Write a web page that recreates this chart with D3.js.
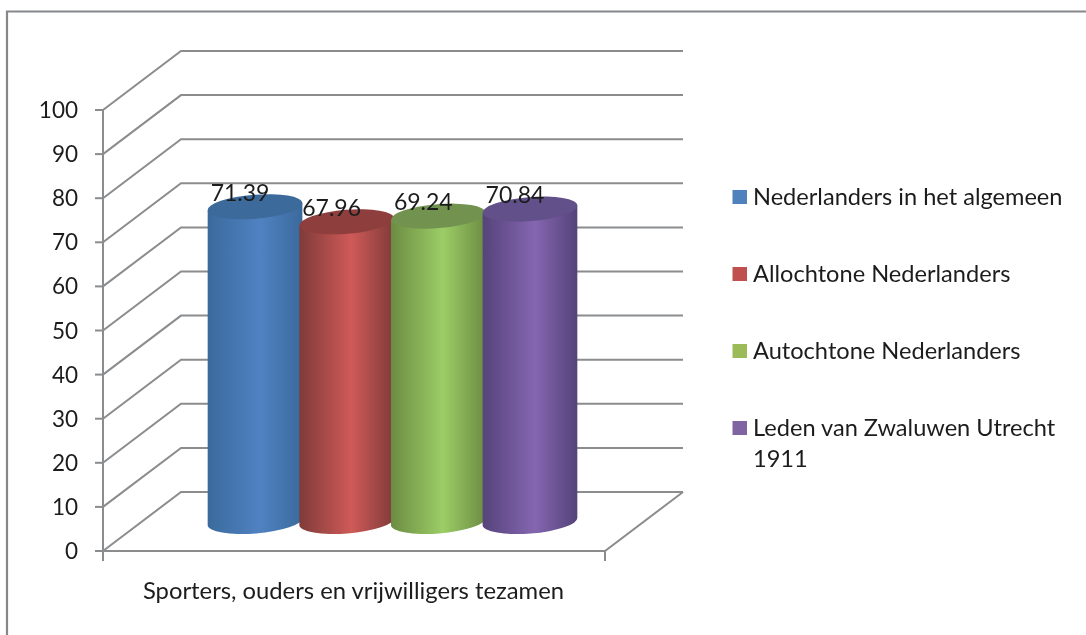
<!DOCTYPE html>
<html><head><meta charset="utf-8">
<script src="https://cdn.jsdelivr.net/npm/d3@7"></script>
<style>html,body{margin:0;padding:0;background:#fff}svg{display:block;filter:blur(0.45px)}text{font-family:Lato,"Open Sans",sans-serif;fill:#1c1c1c}</style>
</head><body><div id="c"></div>
<script>
const seriesNames=["Nederlanders in het algemeen","Allochtone Nederlanders","Autochtone Nederlanders","Leden van Zwaluwen Utrecht 1911"];
const seriesValues=[71.39,67.96,69.24,70.84];
const valueLabels=["71.39","67.96","69.24","70.84"];
const tickValues=[0,10,20,30,40,50,60,70,80,90,100];
const category="Sporters, ouders en vrijwilligers tezamen";
const edgeColors=["#3a6a9c","#7f3b39","#6c8c42","#55437a"];
const midColors=["#5082c2","#cf5a58","#9ccd66","#8466b0"];
const topColors=["#3c6a9a","#8e3f3d","#71934f","#62508a"];
const swatchColors=["#4f81bd","#c0504d","#9bbb59","#8064a2"];

const W=1086,H=635,grid="#8a8c8e";
const svg=d3.select("#c").append("svg").attr("width",W).attr("height",H);
const y=d3.scaleLinear().domain([0,100]).range([551,110]);
const dx=78,dy=59,x0=103,x1=605;
const x=d3.scaleBand().domain(seriesNames).range([209.2,575.8]);
const defs=svg.append("defs");
seriesNames.forEach((s,i)=>{
  const g=defs.append("linearGradient").attr("id","g"+i);
  g.append("stop").attr("offset","0").attr("stop-color",edgeColors[i]);
  g.append("stop").attr("offset","0.55").attr("stop-color",midColors[i]);
  g.append("stop").attr("offset","1").attr("stop-color",edgeColors[i]);
});
// frame
svg.append("path").attr("d",`M7,635V11.5H1086`).attr("fill","none").attr("stroke","#85878a").attr("stroke-width",2.2);
// walls
const gg=svg.append("g").attr("fill","none").attr("stroke",grid).attr("stroke-width",2);
gg.selectAll("path.g").data(tickValues).join("path").attr("class","g")
  .attr("d",v=>`M${x0},${y(v)}L${x0+dx},${y(v)-dy}H${x1+dx}`);
gg.append("path").attr("d",`M${x0},${y(0)}H${x1}L${x1+dx},${y(0)-dy}`);
gg.append("path").attr("d",`M${x0},${y(100)}V${y(0)+10}M${x1},${y(0)}V${y(0)+10}`);
gg.selectAll("path.t").data(tickValues).join("path").attr("class","t")
  .attr("d",v=>`M${x0-8},${y(v)}H${x0}`);
svg.append("g").selectAll("text").data(tickValues).join("text")
  .attr("x",78).attr("y",v=>y(v)+8).attr("text-anchor","end").attr("font-size",22.5).text(d=>d);
// cylinders
const rx=47.5,ry=12,rot=-4.5,rad=rot*Math.PI/180;
const ex=rx*Math.cos(rad),ey=rx*Math.sin(rad);
const base=y(0)-dy/2;
const unit=y(0)-y(1);
seriesNames.forEach((s,i)=>{
  const cx=x(s)+x.bandwidth()/2, ct=base-seriesValues[i]*unit;
  svg.append("path").attr("fill",`url(#g${i})`)
    .attr("d",`M${cx-ex},${ct-ey}L${cx-ex},${base-ey}A${rx},${ry} ${rot} 0 0 ${cx+ex},${base+ey}L${cx+ex},${ct+ey}Z`);
  svg.append("ellipse").attr("cx",cx).attr("cy",ct).attr("rx",rx).attr("ry",ry)
    .attr("transform",`rotate(${rot} ${cx} ${ct})`).attr("fill",topColors[i]);
});
// value labels
svg.append("g").selectAll("text").data(seriesNames).join("text")
  .attr("x",s=>x(s)+x.bandwidth()/2-15).attr("y",(s,i)=>base-seriesValues[i]*unit-6)
  .attr("text-anchor","middle").attr("font-size",23).text((s,i)=>valueLabels[i]);
// category
svg.append("text").attr("x",353.5).attr("y",599).attr("text-anchor","middle").attr("font-size",23.8).text(category);
// legend
const legY=d3.scalePoint().domain(seriesNames).range([197,428]);
svg.append("g").selectAll("rect").data(seriesNames).join("rect")
  .attr("x",732.5).attr("y",s=>legY(s)-7).attr("width",14.5).attr("height",14).attr("fill",(s,i)=>swatchColors[i]);
const lt=svg.append("g").selectAll("text").data(seriesNames).join("text")
  .attr("x",753).attr("y",s=>legY(s)+7.5).attr("font-size",23.6);
lt.each(function(s){
  const t=d3.select(this);
  if(s.endsWith(" 1911")){
    t.append("tspan").attr("x",753).text(s.slice(0,-5));
    t.append("tspan").attr("x",753).attr("dy",31).text("1911");
  } else t.text(s);
});
</script></body></html>
